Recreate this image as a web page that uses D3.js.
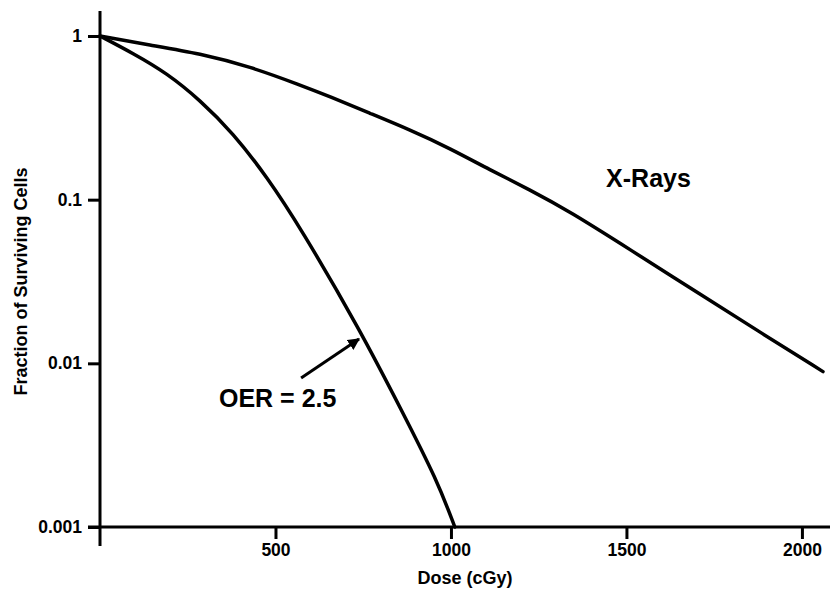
<!DOCTYPE html>
<html>
<head>
<meta charset="utf-8">
<script src="https://cdn.jsdelivr.net/npm/d3@7"></script>
<style>
    body { margin: 0; background: #fff; }
    svg { display: block; }
    svg text { font-family: "Liberation Sans", Arial, sans-serif; font-weight: bold; fill: #000; }
    svg text.tickLabel { font-size: 17.5px; }
    svg text.axisTitle { font-size: 18px; }
    svg text.annotation { font-size: 25px; }
</style>
</head>
<body>
<div id="graphDiv"></div>
<script>
// x-ray survival curve (dose in cGy, surviving fraction)
const xRayDose = [0, 142, 285, 427, 570, 655, 769, 883, 997, 1111, 1225, 1339, 1510, 1709, 1889, 2060]
const xRaySurvival = [1.0, 0.881, 0.782, 0.651, 0.502, 0.426, 0.337, 0.267, 0.206, 0.152, 0.115, 0.0845, 0.0496, 0.0265, 0.0151, 0.0089]

// oxygenated curve, OER = 2.5
const oxyDose = [0, 94, 191, 285, 379, 476, 570, 741, 863, 960, 1011]
const oxySurvival = [1.0, 0.784, 0.592, 0.406, 0.2555, 0.1376, 0.068, 0.016, 0.00498, 0.00194, 0.001]

const xTicks = [500, 1000, 1500, 2000]
const yTicks = [1, 0.1, 0.01, 0.001]

const width = 830
const height = 589
const margin = { left: 100, top: 36, bottom: 62 }

const xScale = d3.scaleLinear().domain([0, 2080]).range([margin.left, width])
const yScale = d3.scaleLog().domain([0.001, 1]).range([height - margin.bottom, margin.top])

const svg = d3.select("#graphDiv")
    .append("svg")
    .attr("width", width)
    .attr("height", height)

svg.append("defs").append("marker")
    .attr("id", "arrowHead")
    .attr("viewBox", "0 0 10 10")
    .attr("refX", 9)
    .attr("refY", 5)
    .attr("markerWidth", 4)
    .attr("markerHeight", 4)
    .attr("markerUnits", "strokeWidth")
    .attr("orient", "auto")
    .append("path")
    .attr("d", "M0,0 L10,5 L0,10 z")
    .attr("fill", "#000")

function buildXAxis(svg) {
    const bottomAxis = d3.axisBottom(xScale)
        .tickValues(xTicks)
        .tickSize(12)
        .tickPadding(5)
        .tickSizeOuter(0)
        .tickFormat(d3.format("d"))

    const g = svg.append("g")
        .attr("class", "bottomAxis")
        .attr("transform", `translate(0,${yScale(0.001)})`)
        .call(bottomAxis)

    g.select(".domain").remove()
    g.selectAll(".tick line").attr("stroke", "#000").attr("stroke-width", 3)
    g.selectAll(".tick text").attr("class", "tickLabel")

    // axis line runs to the right edge
    svg.append("line")
        .attr("x1", xScale(0) - 12)
        .attr("x2", width)
        .attr("y1", yScale(0.001))
        .attr("y2", yScale(0.001))
        .attr("stroke", "#000")
        .attr("stroke-width", 3)

    svg.append("text")
        .attr("class", "axisTitle")
        .attr("x", (margin.left + width) / 2)
        .attr("y", 584)
        .attr("text-anchor", "middle")
        .text("Dose (cGy)")
}

function buildYAxis(svg) {
    const leftAxis = d3.axisLeft(yScale)
        .tickValues(yTicks)
        .tickSize(12)
        .tickPadding(6)
        .tickSizeOuter(0)
        .tickFormat(d => String(d))

    const g = svg.append("g")
        .attr("class", "leftAxis")
        .attr("transform", `translate(${xScale(0)},0)`)
        .call(leftAxis)

    g.select(".domain").remove()
    g.selectAll(".tick line").attr("stroke", "#000").attr("stroke-width", 3)
    g.selectAll(".tick text").attr("class", "tickLabel")

    svg.append("line")
        .attr("x1", xScale(0))
        .attr("x2", xScale(0))
        .attr("y1", 11)
        .attr("y2", 546)
        .attr("stroke", "#000")
        .attr("stroke-width", 3)

    svg.append("text")
        .attr("class", "axisTitle")
        .attr("transform", `translate(27, ${yScale(Math.sqrt(0.001))}) rotate(-90)`)
        .attr("text-anchor", "middle")
        .text("Fraction of Surviving Cells")
}

buildXAxis(svg)
buildYAxis(svg)

const line = d3.line()
    .x(d => xScale(d[0]))
    .y(d => yScale(d[1]))
    .curve(d3.curveBasis)

const drawCurve = (dose, survival) => {
    svg.append("path")
        .datum(d3.zip(dose, survival))
        .attr("d", line)
        .attr("fill", "none")
        .attr("stroke", "#000")
        .attr("stroke-width", 3.5)
        .attr("stroke-linecap", "round")
}

drawCurve(xRayDose, xRaySurvival)
drawCurve(oxyDose, oxySurvival)

// labels
svg.append("text")
    .attr("class", "annotation")
    .attr("x", xScale(1442))
    .attr("y", yScale(0.12))
    .text("X-Rays")

svg.append("text")
    .attr("class", "annotation")
    .attr("x", xScale(339))
    .attr("y", yScale(0.00542))
    .text("OER = 2.5")

svg.append("line")
    .attr("x1", xScale(573))
    .attr("y1", yScale(0.00814))
    .attr("x2", xScale(738))
    .attr("y2", yScale(0.0141))
    .attr("stroke", "#000")
    .attr("stroke-width", 3)
    .attr("marker-end", "url(#arrowHead)")
</script>
</body>
</html>
